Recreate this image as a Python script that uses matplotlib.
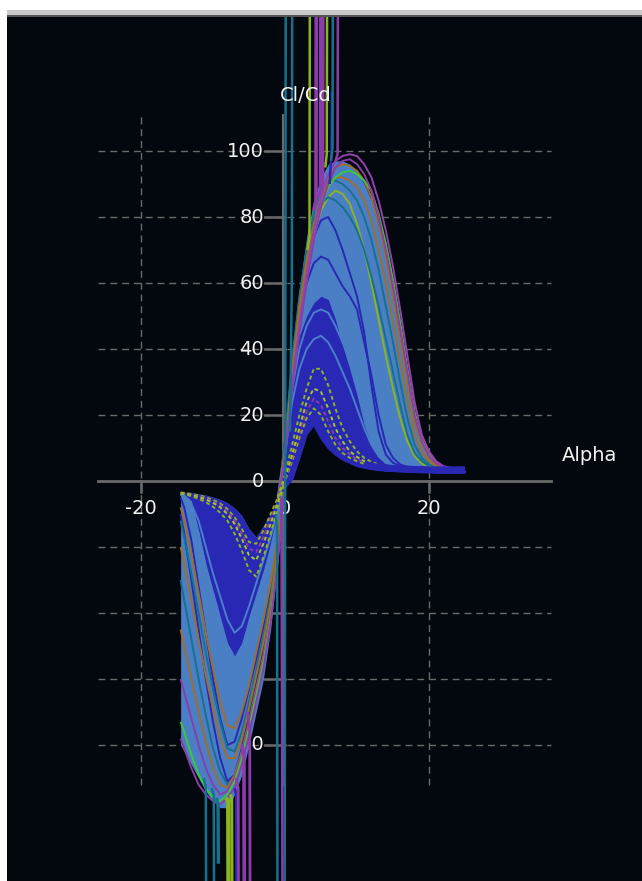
import numpy as np
import matplotlib
matplotlib.use("Agg")
import matplotlib.pyplot as plt
from matplotlib.patches import Rectangle

# ---------------- data ----------------
ALPHA_NEG = [-14.5, -14, -13, -12, -11, -10, -9, -8, -7, -6, -5, -4, -3, -2, -1, 0]
ALPHA_POS = [-1, 0, 1, 2, 3, 4, 5, 6, 7, 8, 9, 10, 11, 12, 13, 14, 15, 16, 17, 18,
             19, 20, 21, 22, 23, 24, 25]
nan = np.nan

# negative lobe: region boundaries
neg_env = [-80, -82, -86, -90, -94, -97, -99, -99, -95, -89, -80, -70, -60, -45, -25, 0]
neg_top = [-3.3, -3.4, -3.6, -3.9, -4.3, -4.9, -5.6, -6.6, -8.2, -10.5, -14.5, -17, -13.5, -10, -5.5, 0]
neg_dark = [-3.5, -4, -6, -15, -25, -33, -41, -49, -53, -49, -41, -34, -27, -19, -11, -1]

# negative lobe: individual polars
neg_lines = {
    "n_lb1":  ([-4, -5, -8, -16, -26, -35, -44, -52, -58, -55, -46, -38, -30, -21, -11, 0], "#4a80c8"),
    "n_lb2":  ([-4, -5, -7, -12, -20, -28, -35, -42, -46, -44, -38, -31, -24, -17, -9, 0], "#4a80c8"),
    "n_db1":  ([-5, -8, -18, -32, -46, -60, -72, -80, -79, -72, -63, -54, -44, -33, -18, 0], "#2828b4"),
    "n_db2":  ([-10, -16, -30, -45, -60, -73, -84, -91, -89, -81, -71, -61, -51, -39, -21, 0], "#2828b4"),
    "n_teal1": ([-30, -36, -48, -60, -71, -81, -88, -92, -90, -83, -74, -64, -54, -41, -22, 0], "#17708e"),
    "n_teal2": ([-12, -17, -28, -40, -52, -63, -73, -81, -82, -76, -67, -57, -47, -35, -19, 0], "#17708e"),
    "n_brown1": ([-20, -25, -36, -48, -59, -69, -78, -84, -84, -78, -69, -59, -49, -37, -20, 0], "#a06e28"),
    "n_brown2": ([-45, -50, -60, -70, -79, -87, -92, -93, -89, -82, -73, -63, -53, -40, -22, 0], "#a06e28"),
    "n_brown3": ([-8, -12, -22, -34, -46, -57, -67, -74, -75, -70, -62, -52, -42, -31, -17, 0], "#a06e28"),
    "n_purple2": ([-60, -64, -72, -80, -87, -92, -95, -94, -90, -83, -74, -64, -54, -41, -23, 0], "#8c3caa"),
    "n_green": ([-73, -76, -83, -89, -93, -96, -97, -95, -91, -84, -75, -65, -55, -42, -23, 0], "#3cc83c"),
    "n_purple1": ([-78, -81, -87, -92, -95, -97, -98, -96, -93, -86, -77, -67, -57, -43, -24, 0], "#8c3caa"),
}
neg_small = {
    "n_ol1": ([-3.5, -3.6, -3.9, -4.3, -4.9, -5.7, -6.8, -8.5, -11, -14.5, -18.5, -19, -15, -10, -5, 0], "#8cb41e"),
    "n_pu_s": ([-3.5, -3.7, -4, -4.6, -5.3, -6.2, -7.4, -9.2, -12, -16, -20.5, -21.5, -17, -11.5, -6, 0], "#8c3caa"),
    "n_ol2": ([-3.6, -3.8, -4.2, -4.8, -5.6, -6.6, -8, -10, -13, -17.5, -22.5, -24, -19, -13, -6.5, 0], "#a6c828"),
    "n_ol3": ([-3.8, -4, -4.6, -5.4, -6.4, -7.8, -9.6, -12, -16, -21, -27, -29, -23, -16, -8, 0], "#8cb41e"),
}

# positive lobe: region boundaries
pos_env = [-5, 15, 38, 58, 74, 85, 92, 96, 97, 97, 96, 94, 90, 85, 77, 68, 57, 44, 31, 19,
           11, 7, 5, 4.2, 3.8, 3.5, 3.2]
pos_dark = [-5, 12, 32, 44, 50, 54, 56, 55, 49, 41, 34, 26, 17, 11, 7.5, 5.5, 4.6, 4.2, 4, 3.9,
            3.8, 3.7, 3.6, 3.6, 3.5, 3.5, 3.5]
pos_floor = [-5, -2, 0.5, 7, 14, 17, 13, 10, 8, 6.5, 5.5, 4.5, 4, 3.6, 3.3, 3.1, 3, 2.9, 2.8, 2.7,
             2.6, 2.6, 2.5, 2.5, 2.5, 2.5, 2.5]
pos_tail = [nan] * 12 + [5, 4.5, 4.2, 4, 3.8, 3.7, 3.6, 3.5, 3.5, 3.4, 3.4, 3.4, 3.4, 3.4, 3.4]

# positive lobe: individual polars
pos_lines = {
    "lb_in1": ([-5, 10, 28, 40, 47, 51, 52, 51, 47, 42, 37, 31, 24, 16, 10, 6.5, 5, 4.3, 4, 3.8, 3.7, 3.6, 3.5, 3.5, 3.5, nan, nan], "#4a80c8"),
    "lb_in2": ([-5, 8, 24, 34, 40, 43, 44, 42, 38, 33, 28, 22, 16, 11, 7.5, 5.5, 4.6, 4.1, 3.9, 3.7, 3.6, 3.5, 3.5, nan, nan, nan, nan], "#4a80c8"),
    "db1": ([-6, 12, 35, 52, 65, 74, 79, 80, 76, 70, 63, 56, 45, 29, 15, 8, 5.5, 4.5, 4, 3.8, 3.7, 3.6, 3.5, 3.5, 3.5, 3.5, 3.5], "#2828b4"),
    "db2": ([-6, 12, 34, 50, 60, 66, 68, 67, 63, 59, 56, 52, 42, 32, 20, 11, 7, 5, 4.3, 4, 3.8, 3.7, 3.6, 3.5, 3.5, 3.5, 3.5], "#2828b4"),
    "olive_big": ([-6, 9, 31, 49, 63, 74, 82, 86, 88, 87, 84, 78, 70, 60, 49, 38, 28, 19, 12, 7.5, 5.3, 4.3, 3.8, nan, nan, nan, nan], "#8cb41e"),
    "teal2": ([-6, 12, 37, 56, 70, 79, 84, 86, 85, 83, 80, 76, 70, 62, 53, 43, 33, 23, 14, 8.5, 6, 4.5, nan, nan, nan, nan, nan], "#17708e"),
    "teal1": ([-6, 11, 36, 55, 70, 81, 88, 91, 91, 90, 88, 85, 80, 73, 64, 53, 42, 30, 19, 11, 7, 5, 4, nan, nan, nan, nan], "#17708e"),
    "brown2": ([-6, 10, 34, 53, 67, 78, 86, 90, 92, 92, 91, 89, 85, 79, 70, 60, 48, 36, 24, 14, 8.5, 6, 4.5, 3.9, nan, nan, nan], "#a06e28"),
    "brown1": ([-6, 9, 32, 50, 65, 77, 86, 92, 95, 96, 95.5, 94, 91, 86, 78, 68, 56, 43, 30, 18, 11, 7, 5, 4.2, 3.7, nan, nan], "#a06e28"),
    "green": ([-6, 8, 30, 48, 62, 74, 83, 89, 92, 93.5, 94, 93, 91, 88, 81, 72, 61, 48, 34, 21, 12.5, 8, 5.5, 4.3, nan, nan, nan], "#3cc83c"),
    "mag2": ([-6, 7, 28, 45, 60, 73, 83, 90, 95, 97, 97.5, 96, 93, 88, 80, 70, 59, 46, 33, 20, 12, 7.5, 5.3, 4.3, 3.8, nan, nan], "#8c3caa"),
    "mag1": ([-6, 8, 30, 48, 63, 76, 86, 93, 97, 98.5, 99, 98.5, 96, 92, 85, 76, 65, 52, 38, 24, 14, 9, 6, 4.5, 4, 3.5, nan], "#9440ae"),
    "p_floor": (pos_floor, "#2828b4"),
}
pos_small = {
    "p_ol1": ([-5, 0, 6, 13, 19, 22, 20, 15, 11, 8.5, 7, 6, 5.2, 4.6, 4.2, 3.9, 3.7, 3.5, 3.4, 3.3, 3.2, 3.1, 3.1, 3, 3, nan, nan], "#8cb41e"),
    "p_pu1": ([-5, 0.5, 7, 14.5, 21, 25, 23, 18, 13, 10, 8, 6.6, 5.6, 4.9, 4.4, 4, 3.8, 3.6, 3.5, 3.4, 3.3, 3.2, 3.1, 3, nan, nan, nan], "#8c3caa"),
    "p_ol2": ([-5, 1, 8, 16, 24, 28, 27, 22, 16, 12, 9, 7.3, 6, 5, 4.5, 4.1, 3.8, 3.6, 3.5, 3.4, 3.3, 3.2, 3.1, 3.0, 3.0, nan, nan], "#a6c828"),
    "p_ol3": ([-5, 2, 11, 20, 28, 34, 34, 29, 22, 16, 12, 9, 7, 5.8, 5, 4.4, 4, 3.8, 3.6, 3.5, 3.4, 3.3, 3.2, 3.1, nan, nan, nan], "#8cb41e"),
}

# polars that run off the scale (near-vertical strokes): alpha, value, colour, width
spikes = [
    ([-0.05, 0.1], [-130, 150], "#17708e", 1.8),
    ([0.7, 0.95, 1.0], [15, 60, 150], "#17708e", 1.8),
    ([3.1, 3.4, 3.45], [70, 74, 150], "#8cb41e", 1.8),
    ([4.0, 4.3, 4.35], [82, 85, 150], "#8c3caa", 2.6),
    ([4.6, 4.9, 4.95], [86, 88, 150], "#8c3caa", 2.2),
    ([5.0, 5.25, 5.3], [89, 90, 150], "#8c3caa", 2.2),
    ([5.6, 5.8, 5.85], [95, 99, 150], "#8cb41e", 1.8),
    ([6.2, 6.45, 6.5], [90, 100, 118], "#2828b4", 1.8),
    ([6.4, 6.6, 6.65], [97, 101, 150], "#17708e", 1.8),
    ([7.0, 7.3, 7.35], [97, 99, 150], "#8c3caa", 1.8),
    ([-11.3, -11.0, -10.95], [-90, -93, -130], "#17708e", 1.8),
    ([-10.2, -9.9, -9.85], [-93, -95, -130], "#17708e", 1.8),
    ([-9.5, -9.3, -9.25], [-96, -98, -116], "#17708e", 2.4),
    ([-8.2, -7.9, -7.85], [-96, -97, -130], "#8cb41e", 3.0),
    ([-7.6, -7.4, -7.35], [-95, -96, -130], "#8cb41e", 2.2),
    ([-7.0, -6.8, -6.75], [-93, -95, -125], "#2828b4", 1.8),
    ([-6.8, -6.5, -6.45], [-90, -93, -130], "#8c3caa", 2.0),
    ([-6.0, -5.7, -5.65], [-80, -83, -130], "#8c3caa", 2.6),
    ([-5.2, -4.9, -4.85], [-70, -75, -130], "#8c3caa", 2.0),
    ([-0.5, -0.4, -0.35], [-5, -75, -130], "#8c3caa", 1.8),
    ([-1.3, -1.1, -1.05], [-10, -15, -130], "#17708e", 1.8),
]

X_TICKS = [-20, 0, 20]
Y_TICKS = [-80, -60, -40, -20, 0, 20, 40, 60, 80, 100]

# ---------------- figure ----------------
W, H = 642, 881
fig = plt.figure(figsize=(W / 100, H / 100), dpi=100)
fig.patch.set_facecolor("white")
fig.patches.append(Rectangle((7 / W, 1 - 16 / H), 1 - 7 / W, 6 / H, transform=fig.transFigure,
                             facecolor="#c8c8c8", edgecolor="none"))
fig.patches.append(Rectangle((7 / W, 1 - 17 / H), 1 - 7 / W, 1.5 / H, transform=fig.transFigure,
                             facecolor="#555555", edgecolor="none"))

ax = fig.add_axes([7 / W, 0, 1 - 7 / W, (H - 17) / H])
ax.set_facecolor("#02080e")
X0, SX, Y0, SY = 285.0, 7.2, 481.0, 3.3
ax.set_xlim((7 - X0) / SX, (W - X0) / SX)
ax.set_ylim((Y0 - H) / SY, (Y0 - 17) / SY)
for s in ax.spines.values():
    s.set_visible(False)
ax.set_xticks([])
ax.set_yticks([])

gcol = "#6a6a6a"
xl, xr = -26, 37
yb, yt = -92, 111
for y in Y_TICKS:
    if y != 0:
        ax.plot([xl, xr], [y, y], color=gcol, lw=1.0, ls=(0, (5, 3.5)), zorder=1)
    ax.plot([-2.8, 0], [y, y], color=gcol, lw=1.8, zorder=1)
for x in X_TICKS:
    if x != 0:
        ax.plot([x, x], [yb, yt], color=gcol, lw=1.0, ls=(0, (5, 3.5)), zorder=1)
        ax.plot([x, x], [0, -3.3], color=gcol, lw=1.8, zorder=1)
ax.plot([xl, xr], [0, 0], color=gcol, lw=2.0, zorder=1)
ax.plot([-0.3, -0.3], [yb, yt], color=gcol, lw=1.5, zorder=1)

tcol = "#f2f2f2"
fs = 14
for y in Y_TICKS:
    ax.text(-2.9, y, f"{y}", color=tcol, fontsize=fs, ha="right", va="center", zorder=2)
for x in X_TICKS:
    ax.text(x, -8.2, f"{x}", color=tcol, fontsize=fs, ha="center", va="center", zorder=2)
ax.text((306 - X0) / SX, (Y0 - 95) / SY, "Cl/Cd", color=tcol, fontsize=fs, ha="center",
        va="center", zorder=10)
ax.text((590 - X0) / SX, (Y0 - 455) / SY, "Alpha", color=tcol, fontsize=fs, ha="center",
        va="center", zorder=10)

LB, DB = "#4a7fc6", "#2828b4"
# negative lobe masses
ax.fill_between(ALPHA_NEG, neg_env, neg_top, color=LB, lw=0, zorder=3)
ax.fill_between(ALPHA_NEG, neg_dark, neg_top, color=DB, lw=0, zorder=3)
# positive lobe masses
ax.fill_between(ALPHA_POS, pos_env, pos_floor, color=LB, lw=0, zorder=3)
ax.fill_between(ALPHA_POS, pos_dark, pos_floor, color=DB, lw=0, zorder=3)

for name, (vals, col) in neg_lines.items():
    ax.plot(ALPHA_NEG, vals, color=col, lw=1.4, zorder=4, solid_capstyle="butt")
for name, (vals, col) in pos_lines.items():
    ax.plot(ALPHA_POS, vals, color=col, lw=1.4, zorder=4, solid_capstyle="butt")
for name, (vals, col) in neg_small.items():
    ax.plot(ALPHA_NEG, vals, color=col, lw=1.4, ls=(0, (2, 1.5)), zorder=4)
for name, (vals, col) in pos_small.items():
    ax.plot(ALPHA_POS, vals, color=col, lw=1.4, ls=(0, (2, 1.5)), zorder=4)
ax.plot(ALPHA_POS, pos_tail, color=DB, lw=5, zorder=4, solid_capstyle="butt")
for a, v, col, w in spikes:
    ax.plot(a, v, color=col, lw=w, zorder=5, solid_capstyle="butt")

fig.savefig("out.png", dpi=100, facecolor=fig.get_facecolor())
